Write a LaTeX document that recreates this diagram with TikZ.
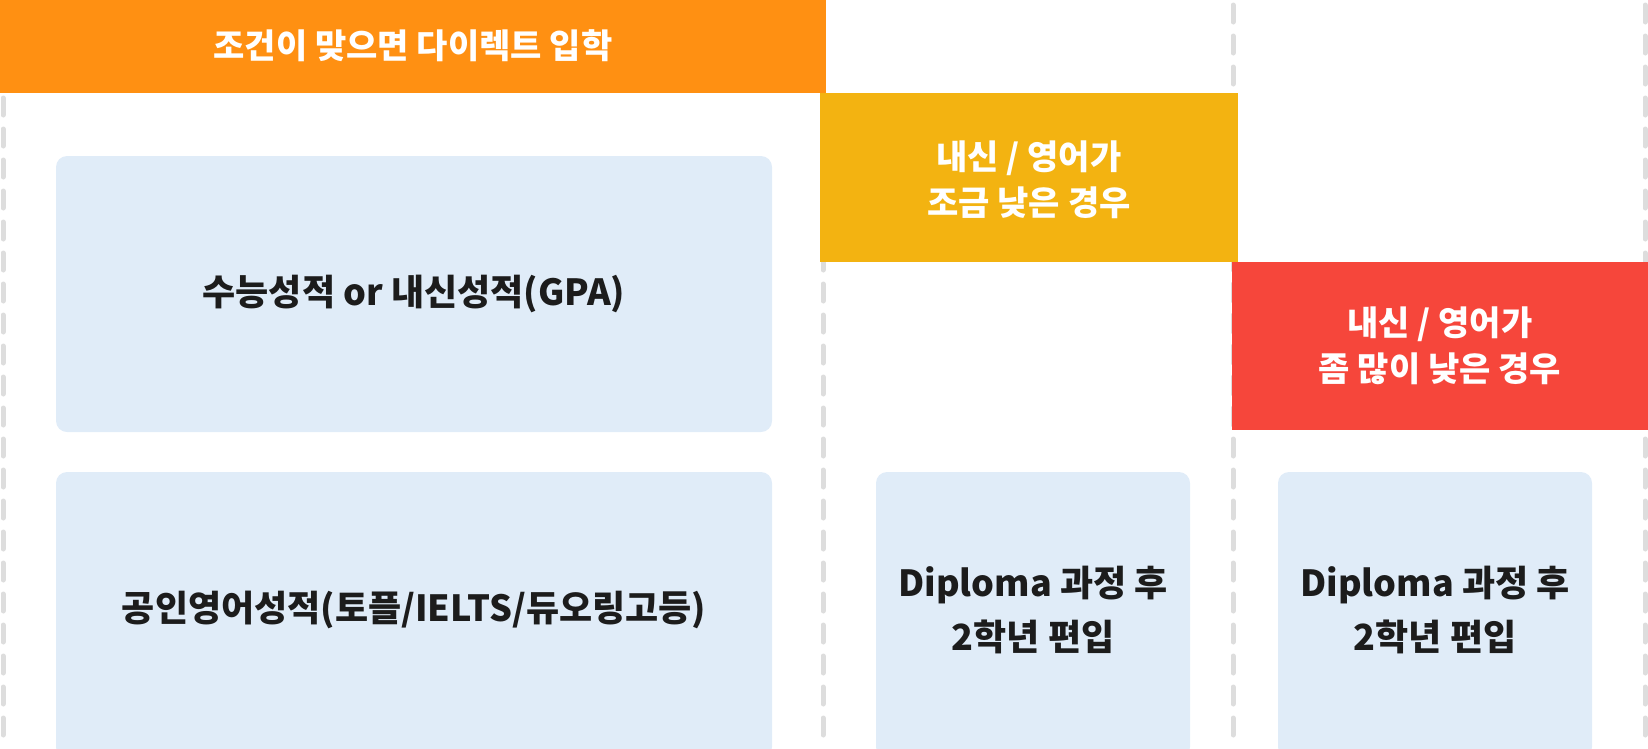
\documentclass[tikz,border=0pt]{standalone}
\usepackage{fontspec}
\setmainfont{Noto Sans CJK KR}
\definecolor{cOrange}{HTML}{FF9012}
\definecolor{cYellow}{HTML}{F3B311}
\definecolor{cRed}{HTML}{F6463B}
\definecolor{cBlue}{HTML}{E0ECF8}
\definecolor{cDash}{HTML}{DDDDDD}
\definecolor{cText}{HTML}{1C1C1C}
\tikzset{
  guide/.style={draw=cDash, line width=5pt, line cap=round, dash pattern=on 17pt off 14pt},
  band/.style={inner sep=0pt, outer sep=0pt},
  bluebox/.style={fill=cBlue, rounded corners=11pt},
  wlabel/.style={text=white, font=\bfseries\fontsize{34}{46}\selectfont, align=center},
  blabel/.style={text=cText, font=\bfseries\fontsize{36}{54}\selectfont, align=center},
}
\begin{document}
\begin{tikzpicture}[x=1pt, y=-1pt]
\useasboundingbox (0,0) rectangle (1648,748);
% guides
\coordinate (g1t) at (3,5);   \coordinate (g1b) at (3,748);
\coordinate (g2t) at (823,5); \coordinate (g2b) at (823,748);
\coordinate (g3t) at (1233,5); \coordinate (g3b) at (1233,748);
\coordinate (g4t) at (1645,5); \coordinate (g4b) at (1645,748);
\draw[guide] (g1t) -- (g1b);
\draw[guide] (g2t) -- (g2b);
\draw[guide] (g3t) -- (g3b);
\draw[guide] (g4t) -- (g4b);
% blue boxes
\fill[bluebox] (56,156) rectangle (772,432);
\fill[bluebox] (56,472) rectangle (772,758);
\fill[bluebox] (876,472) rectangle (1190,758);
\fill[bluebox] (1278,472) rectangle (1592,758);
\node[blabel] (a) at (414,294) {수능성적 or 내신성적(GPA)};
\node[blabel] (b) at (414,610) {공인영어성적(토플/IELTS/듀오링고등)};
\node[blabel] (c) at (1033,610) {Diploma 과정 후\\2학년 편입};
\node[blabel] (d) at (1435,610) {Diploma 과정 후\\2학년 편입};
% colored bands
\fill[cOrange] (0,0) rectangle (826,93);
\fill[cYellow] (820,93) rectangle (1238,262);
\fill[cRed] (1232,262) rectangle (1648,430);
\node[wlabel] (o) at (413,46) {조건이 맞으면 다이렉트 입학};
\node[wlabel] (y) at (1029,180) {내신 / 영어가\\조금 낮은 경우};
\node[wlabel] (r) at (1440,346) {내신 / 영어가\\좀 많이 낮은 경우};
\end{tikzpicture}
\end{document}
